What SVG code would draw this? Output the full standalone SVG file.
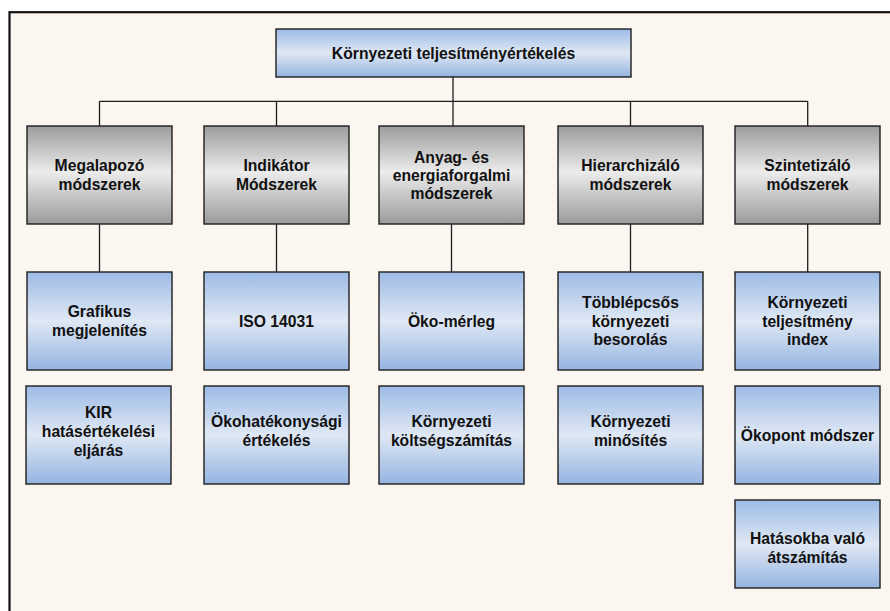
<svg xmlns="http://www.w3.org/2000/svg" width="890" height="611" viewBox="0 0 890 611">
  <defs>
    <linearGradient id="gBlue" x1="0" y1="0" x2="0" y2="1">
      <stop offset="0" stop-color="#9dbbe6"/>
      <stop offset="0.5" stop-color="#dfe8f4"/>
      <stop offset="1" stop-color="#95b4e1"/>
    </linearGradient>
    <linearGradient id="gGray" x1="0" y1="0" x2="0" y2="1">
      <stop offset="0" stop-color="#9b9b9b"/>
      <stop offset="0.47" stop-color="#ececec"/>
      <stop offset="1" stop-color="#9a9a9a"/>
    </linearGradient>
    <style>
      .box { stroke: #1e1e1e; stroke-width: 1.4; }
      .blue { fill: url(#gBlue); }
      .gray { fill: url(#gGray); }
      .shadow { fill: #d8d4d0; }
      text { font-family: "Liberation Sans", Arial, sans-serif; font-weight: bold; font-size: 15.7px; fill: #111; text-anchor: middle; }
      .wire { stroke: #1e1e1e; stroke-width: 1.3; fill: none; }
    </style>
  </defs>

  <!-- page and frame -->
  <rect x="0" y="0" width="890" height="611" fill="#ffffff"/>
  <rect x="9.5" y="12.2" width="890" height="620" fill="#fcf6f1" stroke="#111" stroke-width="2.2"/>

  <!-- connectors -->
  <g id="connectors">
    <path class="wire" d="M453 77 V126"/>
    <path class="wire" d="M99.5 101.3 H807.7"/>
    <path class="wire" d="M99.5 101.3 V126 M276.5 101.3 V126 M630.5 101.3 V126 M807.7 101.3 V126"/>
    <path class="wire" d="M99.5 224 V272 M276.5 224 V272 M451.5 224 V272 M630.5 224 V272 M807.7 224 V272"/>
  </g>

  <!-- root -->
  <g id="root">
    <rect class="box blue" x="276" y="29" width="355" height="48"/>
    <text x="453.5" y="58.5">Környezeti teljesítményértékelés</text>
  </g>

  <!-- method groups -->
  <g id="megalapozo">
    <rect class="box gray" x="27" y="126" width="145" height="98"/>
    <text x="99.5" y="170.7">Megalapozó</text>
    <text x="99.5" y="190">módszerek</text>
  </g>
  <g id="indikator">
    <rect class="box gray" x="204" y="126" width="145" height="98"/>
    <text x="276.5" y="170.7">Indikátor</text>
    <text x="276.5" y="190">Módszerek</text>
  </g>
  <g id="anyag">
    <rect class="box gray" x="379" y="126" width="145" height="98"/>
    <text x="451.5" y="163">Anyag- és</text>
    <text x="451.5" y="181">energiaforgalmi</text>
    <text x="451.5" y="199.3">módszerek</text>
  </g>
  <g id="hierarchizalo">
    <rect class="box gray" x="558" y="126" width="145" height="98"/>
    <text x="630.5" y="170.7">Hierarchizáló</text>
    <text x="630.5" y="190">módszerek</text>
  </g>
  <g id="szintetizalo">
    <rect class="box gray" x="735" y="126" width="145" height="98"/>
    <text x="807.5" y="170.7">Szintetizáló</text>
    <text x="807.5" y="190">módszerek</text>
  </g>

  <!-- first row of methods -->
  <g id="grafikus">
    <rect class="box blue" x="27" y="272" width="145" height="98"/>
    <text x="99.5" y="316.7">Grafikus</text>
    <text x="99.5" y="336">megjelenítés</text>
  </g>
  <g id="iso">
    <rect class="box blue" x="204" y="272" width="145" height="98"/>
    <text x="276.5" y="326.5">ISO 14031</text>
  </g>
  <g id="okomerleg">
    <rect class="box blue" x="379" y="272" width="145" height="98"/>
    <text x="451.5" y="326.5">Öko-mérleg</text>
  </g>
  <g id="tobblepcsos">
    <rect class="box blue" x="558" y="272" width="145" height="98"/>
    <text x="630.5" y="308">Többlépcsős</text>
    <text x="630.5" y="326.5">környezeti</text>
    <text x="630.5" y="345">besorolás</text>
  </g>
  <g id="index">
    <rect class="box blue" x="735" y="272" width="145" height="98"/>
    <text x="807.5" y="308">Környezeti</text>
    <text x="807.5" y="326.5">teljesítmény</text>
    <text x="807.5" y="345">index</text>
  </g>

  <!-- second row of methods -->
  <g id="kir">
    <rect class="box blue" x="26" y="386" width="145" height="98"/>
    <text x="98.5" y="418">KIR</text>
    <text x="98.5" y="437">hatásértékelési</text>
    <text x="98.5" y="456">eljárás</text>
  </g>
  <g id="okohatekonysagi">
    <rect class="box blue" x="204" y="386" width="145" height="98"/>
    <text x="276.5" y="427">Ökohatékonysági</text>
    <text x="276.5" y="446">értékelés</text>
  </g>
  <g id="koltseg">
    <rect class="box blue" x="379" y="386" width="145" height="98"/>
    <text x="451.5" y="427">Környezeti</text>
    <text x="451.5" y="446">költségszámítás</text>
  </g>
  <g id="minosites">
    <rect class="box blue" x="558" y="386" width="145" height="98"/>
    <text x="630.5" y="427">Környezeti</text>
    <text x="630.5" y="446">minősítés</text>
  </g>
  <g id="okopont">
    <rect class="box blue" x="735" y="386" width="145" height="98"/>
    <text x="807.5" y="440.5">Ökopont módszer</text>
  </g>

  <!-- third row -->
  <g id="hatasokba">
    <rect class="box blue" x="735" y="500" width="145" height="88"/>
    <text x="807.5" y="544.3">Hatásokba való</text>
    <text x="807.5" y="563.3">átszámítás</text>
  </g>
</svg>
